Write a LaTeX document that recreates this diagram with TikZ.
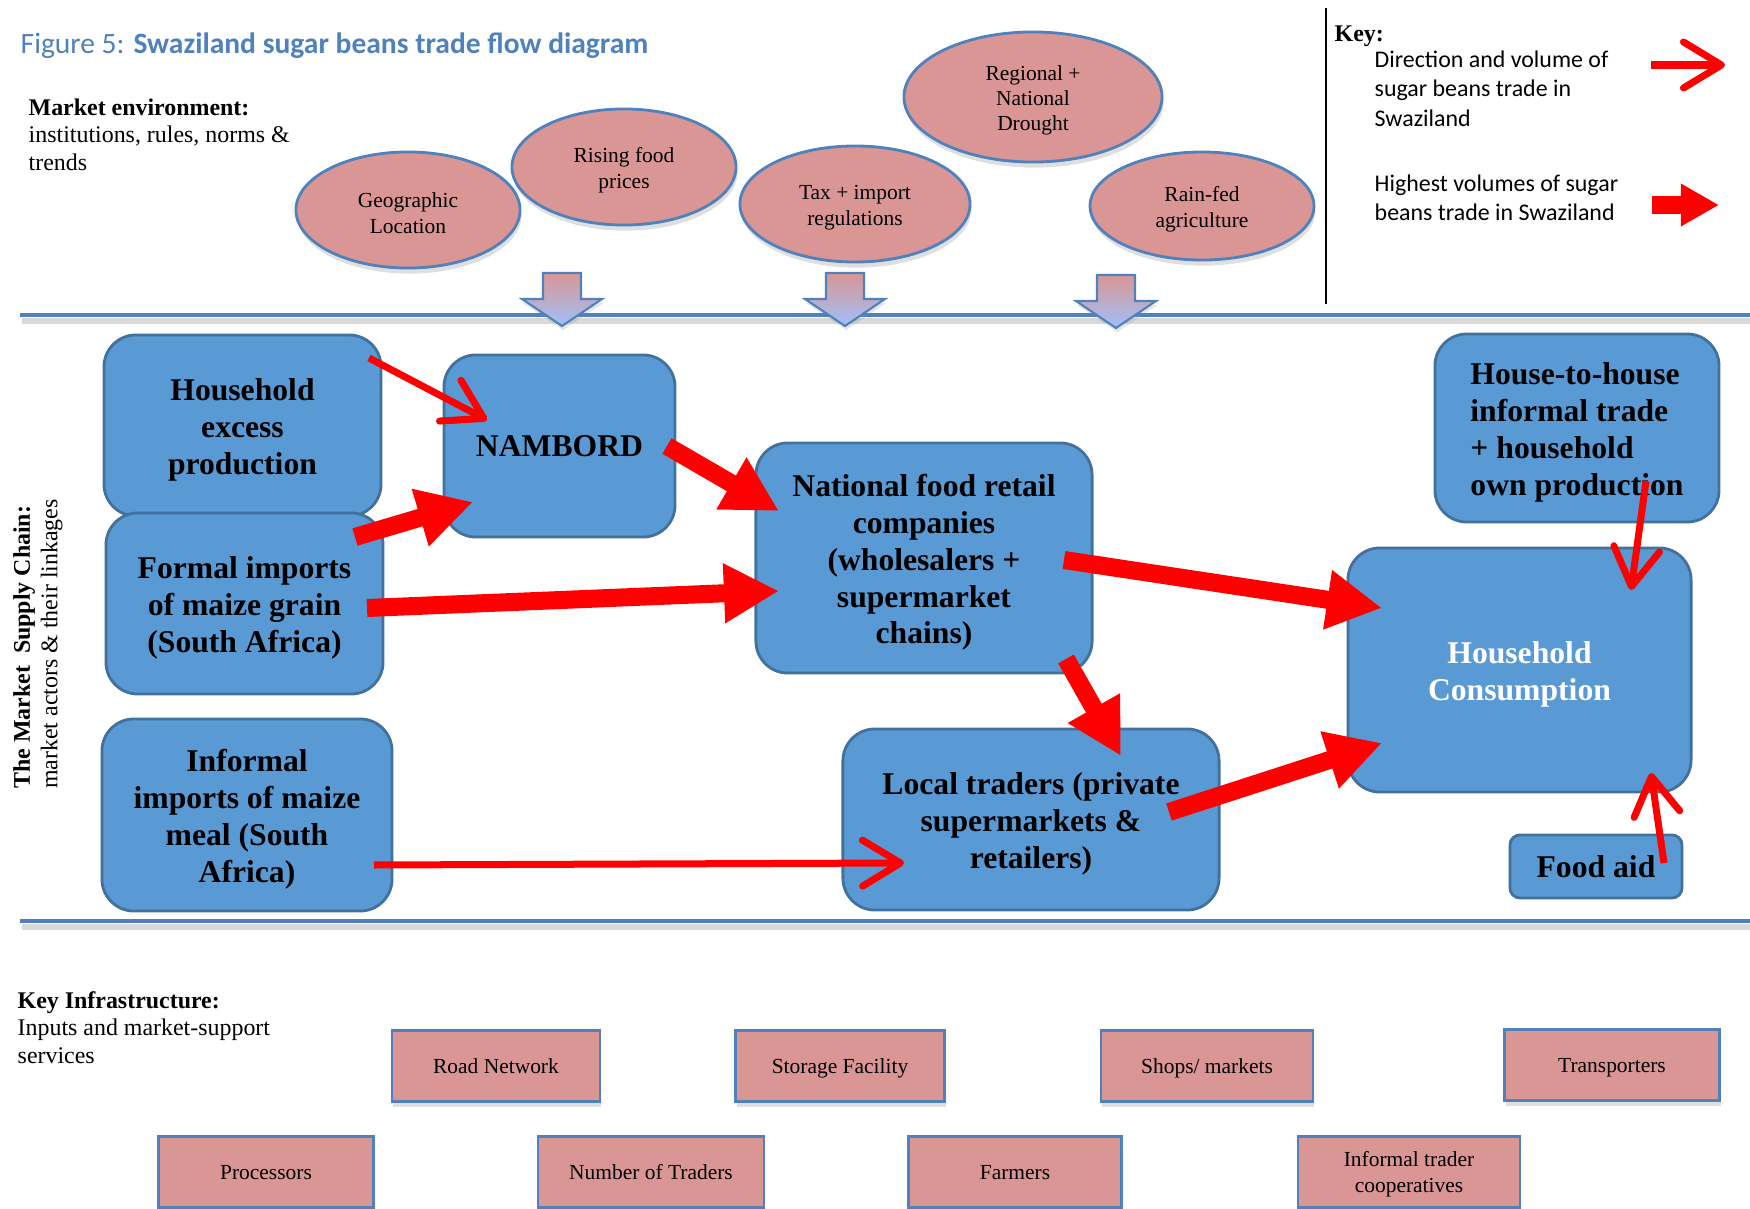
\documentclass[tikz,border=0pt]{standalone}
\usepackage{fontspec}
\setmainfont{Liberation Serif}
\newfontfamily\calibri{Carlito}
\usepackage{tikz}
\usetikzlibrary{arrows.meta, shapes.geometric, shadows, calc}

\definecolor{pinkfill}{RGB}{217,150,148}
\definecolor{edgeblue}{RGB}{79,129,189}
\definecolor{boxblue}{RGB}{89,154,212}
\definecolor{boxedge}{RGB}{65,113,156}
\definecolor{paleblue}{RGB}{160,192,248}
\definecolor{flowred}{RGB}{255,0,0}
\definecolor{titleblue}{RGB}{79,129,189}

\newcommand\bxs{\rule{0pt}{8.8pt}}
\newcommand\fcs{\rule{0pt}{6.1pt}}
\newcommand\ifs{\rule{0pt}{5.8pt}}

\begin{document}
\begin{tikzpicture}[x=0.01cm, y=-0.01cm,
  actor/.style={draw=boxedge, line width=0.8pt, fill=boxblue, rounded corners=0.32cm, align=center, inner sep=0pt, font=\fontsize{9}{10.5}\selectfont\bfseries},
  factor/.style={ellipse, draw=edgeblue, line width=0.8pt, fill=pinkfill, inner sep=0pt, align=center, font=\fontsize{6.1}{7.2}\selectfont, drop shadow={shadow xshift=0.4pt, shadow yshift=-1.6pt, opacity=0.25}},
  infra/.style={draw=edgeblue, line width=0.8pt, fill=pinkfill, inner sep=0pt, align=center, font=\fontsize{6.1}{7.2}\selectfont, execute at begin node=\rule[-1.6pt]{0pt}{7.4pt}, drop shadow={shadow xshift=0.4pt, shadow yshift=-1.6pt, opacity=0.25}},
  sectxt/.style={inner sep=0pt, align=left, font=\fontsize{6.8}{7.8}\selectfont},
  keytxt/.style={inner sep=0pt, align=left, font=\calibri\fontsize{6.8}{8.4}\selectfont},
  thinflow/.style={draw=flowred, line width=0.07cm, -{Straight Barb[round, length=0.38cm, width=0.46cm]}},
  fatflow/.style={draw=flowred, line width=0.18cm, -{Triangle[length=0.55cm, width=0.56cm]}}]
\useasboundingbox (0,0) rectangle (1750,1209);

\node[anchor=west, inner sep=0pt, text=titleblue, font=\calibri\fontsize{8.4}{10}\selectfont] (title) at (20,46) {Figure 5: \textbf{Swaziland sugar beans trade flow diagram}};
\node[sectxt, anchor=north west] (mktenv) at (28,98) {\textbf{Market environment:}\\institutions, rules, norms \&\\trends};
\node[sectxt, anchor=north west] (keyinf) at (17,991) {\textbf{Key Infrastructure:}\\Inputs and market-support\\services};
\node[sectxt, rotate=90] (chain) at (38,644) {\textbf{The Market\ \ Supply Chain:}\\market actors \& their linkages};

\node[factor, minimum width=2.24cm, minimum height=1.16cm] (geo) at (408,210) {\fcs Geographic\\Location};
\node[factor, minimum width=2.24cm, minimum height=1.16cm] (rfp) at (624,167) {\fcs Rising food\\prices};
\node[factor, minimum width=2.30cm, minimum height=1.16cm] (tax) at (855,204) {\fcs Tax + import\\regulations};
\node[factor, minimum width=2.58cm, minimum height=1.30cm] (drt) at (1033,97) {\fcs Regional +\\National\\Drought};
\node[factor, minimum width=2.24cm, minimum height=1.08cm] (rfa) at (1202,206) {\fcs Rain-fed\\agriculture};

\draw[black] (1326,8) -- (1326,304);
\node[anchor=north west, inner sep=0pt, font=\fontsize{6.8}{8}\selectfont\bfseries] (keyhead) at (1334,25) {Key:};
\node[keytxt, anchor=north west] (keyone) at (1374,50) {Direction and volume of\\sugar beans trade in\\Swaziland};
\node[keytxt, anchor=north west] (keytwo) at (1374,174) {Highest volumes of sugar\\beans trade in Swaziland};
\coordinate (kona) at (1651,65);
\coordinate (konb) at (1725,65);
\coordinate (ktwa) at (1652,205);
\coordinate (ktwb) at (1719,205);
\draw[thinflow] (kona) -- (konb);
\draw[fatflow, line width=0.17cm, -{Triangle[length=0.38cm, width=0.40cm]}] (ktwa) -- (ktwb);

\draw[black, opacity=0.15, line width=1.6pt] (22,321) -- (1750,321);
\draw[edgeblue, line width=1.4pt] (20,315) -- (1750,315);
\draw[black, opacity=0.15, line width=1.6pt] (22,927) -- (1750,927);
\draw[edgeblue, line width=1.4pt] (20,921) -- (1750,921);

\foreach \ax/\ay in {562/273, 845/273, 1116/275}
  \draw[edgeblue, line width=0.6pt, top color=pinkfill, bottom color=paleblue,
        drop shadow={shadow xshift=0.3pt, shadow yshift=-1.2pt, opacity=0.2}]
    (\ax-19,\ay) -- (\ax+19,\ay) -- (\ax+19,\ay+26) -- (\ax+40,\ay+26) -- (\ax,\ay+53)
    -- (\ax-40,\ay+26) -- (\ax-19,\ay+26) -- cycle;

\node[actor, minimum width=2.77cm, minimum height=1.81cm] (hhx) at (242.5,425.5) {\bxs Household\\excess\\production};
\node[actor, minimum width=2.77cm, minimum height=1.81cm] (fmi) at (244.5,603.5) {\bxs Formal imports\\of maize grain\\(South Africa)};
\node[actor, minimum width=2.90cm, minimum height=1.92cm] (imm) at (247,815) {\bxs Informal\\imports of maize\\meal (South\\Africa)};
\node[actor, minimum width=2.31cm, minimum height=1.82cm] (nam) at (559.5,446) {NAMBORD};
\node[actor, minimum width=3.36cm, minimum height=2.30cm] (nfr) at (924,558) {\bxs National food retail\\companies\\(wholesalers +\\supermarket\\chains)};
\node[actor, minimum width=3.76cm, minimum height=1.81cm] (ltr) at (1031,819.5) {\bxs Local traders (private\\supermarkets \&\\retailers)};
\node[actor, minimum width=2.84cm, minimum height=1.88cm, align=left] (hth) at (1577,428) {\bxs House-to-house\\informal trade\\+ household\\own production};
\node[actor, minimum width=3.43cm, minimum height=2.44cm, text=white] (hcn) at (1519.5,670) {\bxs Household\\Consumption};
\node[actor, minimum width=1.72cm, minimum height=0.63cm, rounded corners=0.1cm] (fda) at (1596,866.5) {Food aid};

\draw[thinflow] ($(hhx)+(126.5,-67.5)$) -- ($(nam)+(-72.5,-26)$);
\draw[fatflow] ($(fmi)+(110.5,-66.5)$) -- ($(nam)+(-86.5,56)$);
\draw[fatflow] ($(fmi)+(122.5,4.5)$) -- ($(nfr)+(-145,33)$);
\draw[fatflow] ($(nam)+(107.5,0)$) -- ($(nfr)+(-145,-47)$);
\draw[fatflow] ($(nfr)+(140,2)$) -- ($(hcn)+(-137.5,-62)$);
\draw[fatflow] ($(nfr)+(142,101)$) -- ($(ltr)+(90,-63.5)$);
\draw[fatflow] ($(ltr)+(138,-7.5)$) -- ($(hcn)+(-137.5,73)$);
\draw[thinflow] ($(imm)+(127,50)$) -- ($(ltr)+(-127,43.5)$);
\draw[thinflow] ($(hth)+(69,53)$) -- ($(hcn)+(111.5,-80)$);
\draw[thinflow] ($(fda)+(68,-3.5)$) -- ($(hcn)+(131.5,103)$);

\foreach \nm/\cx/\cy/\bw/\txt in {road/496/1066/2.08/{Road Network}, stor/840/1066/2.09/{Storage Facility},
    shop/1207/1066/2.12/{Shops/ markets}, trans/1612/1065/2.15/{Transporters},
    proc/266/1172/2.15/{Processors}, ntr/651/1172/2.26/{Number of Traders},
    farm/1015/1172/2.13/{Farmers}, coop/1409/1172/2.22/{\ifs Informal trader\\cooperatives}}
  \node[infra, minimum width=\bw cm, minimum height=0.71cm] (\nm) at (\cx,\cy) {\txt};
\end{tikzpicture}
\end{document}
